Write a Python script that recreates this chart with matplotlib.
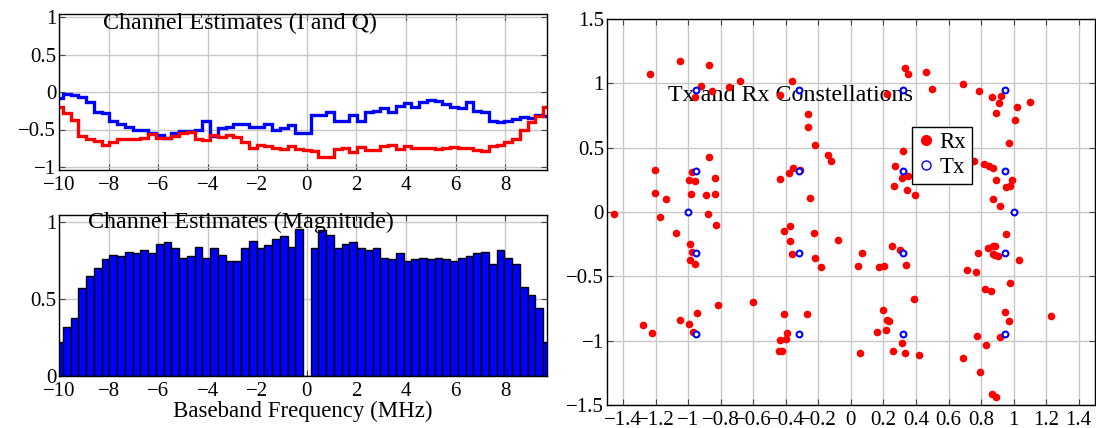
import numpy as np
import matplotlib
matplotlib.use("Agg")
import matplotlib.pyplot as plt
from matplotlib.ticker import FixedLocator, FuncFormatter

plt.rcParams['font.family'] = ['Liberation Serif', 'DejaVu Serif']
plt.rcParams['mathtext.fontset'] = 'stix'

# subcarrier spacing 20 MHz / 64, bins k = -32..31
df = 0.3125
k = np.arange(-32, 32)
freq = k * df

chan_i = [-0.08, -0.02, -0.04, -0.07, -0.13, -0.26, -0.28, -0.39, -0.43, -0.47,
          -0.50, -0.51, -0.54, -0.57, -0.61, -0.54, -0.52, -0.52, -0.51, -0.39,
          -0.59, -0.48, -0.46, -0.43, -0.43, -0.46, -0.47, -0.43, -0.50, -0.48,
          -0.44, -0.54, -0.54, -0.31, -0.31, -0.27, -0.38, -0.39, -0.30, -0.39,
          -0.26, -0.25, -0.21, -0.26, -0.19, -0.14, -0.20, -0.13, -0.11, -0.12,
          -0.16, -0.20, -0.21, -0.13, -0.25, -0.27, -0.39, -0.40, -0.38, -0.36,
          -0.33, -0.35, -0.31, -0.32]
chan_q = [-0.20, -0.28, -0.37, -0.58, -0.63, -0.65, -0.70, -0.67, -0.63, -0.63,
          -0.62, -0.61, -0.56, -0.61, -0.61, -0.59, -0.54, -0.53, -0.63, -0.64,
          -0.57, -0.60, -0.57, -0.60, -0.67, -0.74, -0.70, -0.72, -0.74, -0.76,
          -0.72, -0.76, -0.77, -0.78, -0.87, -0.87, -0.76, -0.74, -0.80, -0.73,
          -0.77, -0.77, -0.72, -0.71, -0.76, -0.72, -0.74, -0.74, -0.75, -0.76,
          -0.74, -0.73, -0.74, -0.75, -0.77, -0.78, -0.72, -0.70, -0.66, -0.62,
          -0.50, -0.40, -0.32, -0.20]
chan_mag = [0.22, 0.32, 0.38, 0.57, 0.65, 0.70, 0.76, 0.79, 0.78, 0.81,
            0.80, 0.82, 0.80, 0.86, 0.87, 0.83, 0.77, 0.78, 0.84, 0.77,
            0.83, 0.79, 0.75, 0.75, 0.83, 0.88, 0.83, 0.85, 0.89, 0.91,
            0.84, 0.96, 0.0, 0.83, 0.95, 0.92, 0.83, 0.86, 0.87, 0.83,
            0.82, 0.83, 0.77, 0.76, 0.80, 0.75, 0.76, 0.77, 0.76, 0.77,
            0.76, 0.75, 0.77, 0.78, 0.80, 0.81, 0.73, 0.82, 0.77, 0.73,
            0.58, 0.53, 0.44, 0.22]

# 16-QAM + BPSK pilot reference points
tx_i = [-0.95, -0.32, 0.32, 0.95, -0.95, -0.32, 0.32, 0.95, -1.0, 1.0,
        -0.95, -0.32, 0.32, 0.95, -0.95, -0.32, 0.32, 0.95]
tx_q = [0.95, 0.95, 0.95, 0.95, 0.32, 0.32, 0.32, 0.32, 0.0, 0.0,
        -0.32, -0.32, -0.32, -0.32, -0.95, -0.95, -0.95, -0.95]

rx_i = [-1.231, -1.051, -0.871, -0.918, -0.959, -0.851, -0.751, -0.681, -0.438, -0.362,
        -0.266, -0.266, -0.219, -0.139, -0.121, -1.205, -0.974, -0.994, -0.959, -0.871,
        -0.834, -0.980, -0.890, -0.836, -1.205, -1.137, -0.434, -0.383, -0.356, -0.311,
        -0.250, -1.456, -1.174, -0.878,
        0.333, 0.354, 0.460, 0.501, 0.221, 0.689, 0.787, 0.869, 0.920, 0.908,
        0.893, 1.018, 1.098, 1.008, 0.973, 0.319, 0.272, 0.313, 0.354, 0.268,
        0.342, 0.397, 0.755, 0.820, 0.849, 0.875, 0.893, 0.990, 0.951, 0.977,
        0.873, 0.914,
        -0.831, -1.072, -0.990, -0.974, -0.986, -0.959, -0.409, -0.372, -0.376, -0.225,
        -0.364, -0.223, -0.186, -0.076, -0.816, -0.601, -0.943, -1.047, -0.992, -0.972,
        -1.280, -1.219, -0.409, -0.272, -0.391, -0.434, -0.401, -0.444, -0.424,
        0.953, 0.067, 0.251, 0.302, 0.045, 0.176, 0.202, 0.339, 0.779, 0.844,
        0.871, 0.887, 0.885, 0.906, 0.875, 1.031, 0.712, 0.769, 0.977, 0.822,
        0.861, 0.388, 0.200, 0.225, 0.235, 0.161, 0.219, 0.317, 0.059, 0.257,
        0.331, 0.417, 0.947, 0.969, 1.229, 0.777, 0.914, 0.830, 0.689, 0.791,
        0.865, 0.889]
rx_q = [1.075, 1.171, 1.145, 0.977, 0.894, 0.938, 0.971, 1.018, 0.912, 1.016,
        0.765, 0.663, 0.521, 0.446, 0.394, 0.324, 0.314, 0.252, 0.241, 0.430,
        0.264, 0.140, 0.135, 0.143, 0.148, 0.099, 0.254, 0.301, 0.340, 0.324,
        0.112, -0.013, -0.041, -0.018,
        1.122, 1.075, 1.088, 0.959, 0.915, 0.992, 0.943, 0.891, 0.902, 0.847,
        0.767, 0.819, 0.855, 0.715, 0.534, 0.477, 0.357, 0.267, 0.280, 0.202,
        0.171, 0.130, 0.394, 0.371, 0.358, 0.342, 0.246, 0.246, 0.194, 0.199,
        0.099, 0.047,
        -0.101, -0.160, -0.249, -0.311, -0.370, -0.401, -0.145, -0.106, -0.228, -0.166,
        -0.326, -0.355, -0.427, -0.220, -0.725, -0.699, -0.782, -0.836, -0.873, -0.929,
        -0.882, -0.940, -0.792, -0.795, -0.940, -0.992, -0.987, -1.077, -1.077,
        -0.173, -0.318, -0.261, -0.292, -0.419, -0.427, -0.422, -0.409, -0.316, -0.280,
        -0.267, -0.262, -0.336, -0.344, -0.323, -0.370, -0.453, -0.463, -0.554, -0.601,
        -0.611, -0.673, -0.764, -0.842, -0.850, -0.932, -0.917, -1.018, -1.093, -1.082,
        -1.093, -1.111, -0.777, -0.844, -0.805, -0.961, -0.974, -1.036, -1.137, -1.240,
        -1.411, -1.437]

W, H = 1096, 428
fig = plt.figure(figsize=(W / 100, H / 100), dpi=100)


def box(l, t, r, b):
    return [l / W, 1 - b / H, (r - l) / W, (b - t) / H]


def fmt(v, pos):
    s = f"{v:g}"
    if s == "-0":
        s = "0"
    return s.replace('-', '\u2212')


grid_kw = dict(color='#c8c8c8', linewidth=1.0)
tick_fs = 15


def style(ax):
    ax.tick_params(direction='in', top=True, right=True, length=4,
                   width=0.8, labelsize=tick_fs, color='#444444')
    ax.tick_params(axis='x', pad=4)
    ax.tick_params(axis='y', pad=2)
    ax.grid(True, **grid_kw)
    ax.set_axisbelow(True)
    ax.xaxis.set_major_formatter(FuncFormatter(fmt))
    ax.yaxis.set_major_formatter(FuncFormatter(fmt))
    for s in ax.spines.values():
        s.set_linewidth(1.0)


edges = np.append(freq - df / 2, freq[-1] + df / 2)

# I and Q
ax1 = fig.add_axes(box(59, 14, 547, 170))
ax1.stairs(chan_i, edges, baseline=None, color='#0000ff', linewidth=2.4)
ax1.stairs(chan_q, edges, baseline=None, color='#ff0000', linewidth=2.4)
ax1.set_xlim(-10, 9.6875)
ax1.set_ylim(-1.04, 1.04)
ax1.xaxis.set_major_locator(FixedLocator(np.arange(-10, 9, 2)))
ax1.yaxis.set_major_locator(FixedLocator([-1, -0.5, 0, 0.5, 1]))
style(ax1)
ax1.text(0.091, 0.904, 'Channel Estimates (I and Q)', transform=ax1.transAxes,
         fontsize=17.3, ha='left', va='baseline')

# magnitude
ax2 = fig.add_axes(box(59, 214.7, 547, 376))
ax2.bar(freq, chan_mag, width=df, color='#0000ff', edgecolor='black', linewidth=1.0)
ax2.set_xlim(-10, 9.6875)
ax2.set_ylim(0, 1.05)
ax2.xaxis.set_major_locator(FixedLocator(np.arange(-10, 9, 2)))
ax2.yaxis.set_major_locator(FixedLocator([0, 0.5, 1]))
style(ax2)
ax2.set_xlabel('Baseband Frequency (MHz)', fontsize=16.5, labelpad=0)
ax2.text(0.059, 0.916, 'Channel Estimates (Magnitude)', transform=ax2.transAxes,
         fontsize=17.3, ha='left', va='baseline')

# constellation
ax3 = fig.add_axes(box(606.7, 19, 1095, 405))
ax3.text(0.126, 0.788, 'Tx and Rx Constellations', transform=ax3.transAxes,
         fontsize=17.3, ha='left', va='baseline', zorder=1.5)
ax3.plot(rx_i, rx_q, 'o', color='#ff0000', markersize=5.5, markeredgewidth=0,
         label='Rx', zorder=3)
ax3.plot(tx_i, tx_q, 'o', markerfacecolor='white', markeredgecolor='#0000ff',
         markersize=4.2, markeredgewidth=1.5, label='Tx', zorder=4)
ax3.set_xlim(-1.5, 1.5)
ax3.set_ylim(-1.5, 1.5)
ax3.xaxis.set_major_locator(FixedLocator(np.round(np.arange(-1.4, 1.41, 0.2), 1)))
ax3.yaxis.set_major_locator(FixedLocator([-1.5, -1, -0.5, 0, 0.5, 1, 1.5]))
style(ax3)
leg = ax3.legend(loc='upper left', bbox_to_anchor=(0.625, 0.721), borderaxespad=0,
                 fontsize=16.5, fancybox=False, framealpha=1, edgecolor='black',
                 handlelength=0.7, handletextpad=0.25, borderpad=0.25, labelspacing=0.15)
leg.get_frame().set_linewidth(1.0)
hs = leg.legend_handles
hs[0].set_markersize(8)
hs[1].set_markersize(6.5)
hs[1].set_markeredgewidth(1.0)

fig.savefig('out.png', dpi=100)
